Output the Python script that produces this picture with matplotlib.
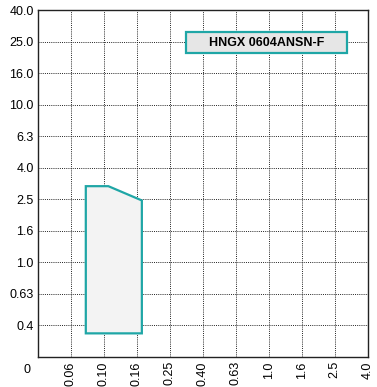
import numpy as np
import matplotlib
matplotlib.use("Agg")
import matplotlib.pyplot as plt
from matplotlib.patches import Rectangle

# Category scale values
x_ticks = [0, 0.06, 0.10, 0.16, 0.25, 0.40, 0.63, 1.0, 1.6, 2.5, 4.0]
x_labels = ["0", "0.06", "0.10", "0.16", "0.25", "0.40", "0.63", "1.0", "1.6", "2.5", "4.0"]
y_ticks = [0, 0.4, 0.63, 1.0, 1.6, 2.5, 4.0, 6.3, 10.0, 16.0, 25.0, 40.0]
y_labels = ["0", "0.4", "0.63", "1.0", "1.6", "2.5", "4.0", "6.3", "10.0", "16.0", "25.0", "40.0"]

# Application area polygon (feed fz, depth ap)
fz = [0.078, 0.078, 0.108, 0.1735, 0.1735]
ap = [0.30, 3.13, 3.13, 2.47, 0.30]

label_text = "HNGX 0604ANSN-F"

fam = "Liberation Sans"
teal = "#1fa6a6"

fig = plt.figure(figsize=(3.77, 3.87), dpi=100)
ax = fig.add_axes([38/377, 1-357/387, (367.7-38)/377, (357-10.3)/387])

xi = np.interp(fz, x_ticks, np.arange(len(x_ticks)))
yi = np.interp(ap, y_ticks, np.arange(len(y_ticks)))
ax.fill(xi, yi, facecolor="#f3f3f3", edgecolor=teal, linewidth=1.6, zorder=3)

ax.set_xlim(0, len(x_ticks)-1)
ax.set_ylim(0, len(y_ticks)-1)
ax.set_xticks(np.arange(1, len(x_ticks)))
ax.set_xticklabels(x_labels[1:], rotation=90, fontfamily=fam, fontsize=9)
ax.set_yticks(np.arange(1, len(y_ticks)))
ax.set_yticklabels(y_labels[1:], fontfamily=fam, fontsize=9)
ax.tick_params(length=0, pad=3)
ax.grid(True, color="#222222", linestyle=(0, (1, 1.2)), linewidth=0.7, zorder=1)
ax.set_axisbelow(True)
for s in ax.spines.values():
    s.set_linewidth(1.0)
    s.set_color("#222222")

ax.text(-0.024, -0.0375, x_labels[0], transform=ax.transAxes, ha="right", va="center",
        fontfamily=fam, fontsize=9)

# label box
ax.add_patch(Rectangle((4.5, 9.63), 4.87, 0.69, facecolor="#e6e6e6", edgecolor=teal,
                       linewidth=1.6, zorder=5))
ax.text(6.94, 9.97, label_text, ha="center", va="center", fontfamily=fam,
        fontsize=9, fontweight="bold", zorder=6)

fig.savefig("out.png", dpi=100)
